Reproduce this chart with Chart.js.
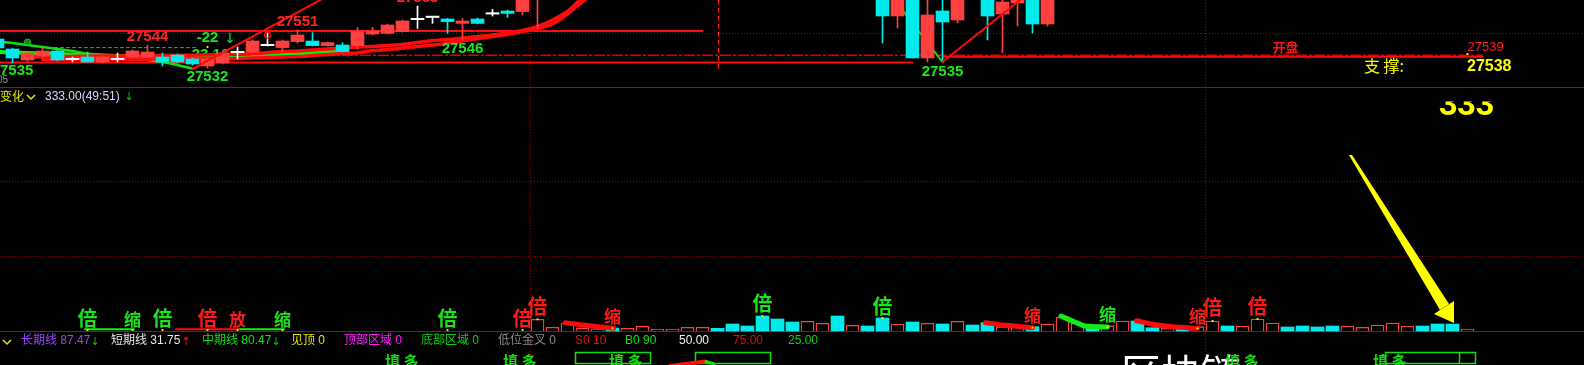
<!DOCTYPE html>
<html>
<head>
<meta charset="utf-8">
<style>
  html, body { margin: 0; padding: 0; background: #000; overflow: hidden; }
  #wrap { width: 1584px; height: 365px; }
</style>
<script src="https://cdn.jsdelivr.net/npm/chart.js@4.4.1/dist/chart.umd.min.js"></script>
</head>
<body>
<div id="wrap"><canvas id="chart" width="1584" height="365"></canvas></div>
<script>
// ---- candles (x = bar slot, 15px apart) ----
const candleIdx = [-1, 0, 1, 2, 3, 4, 5, 6, 7, 8, 9, 10, 11, 12, 13, 14, 15, 16, 17, 18,
  19, 20, 21, 22, 23, 24, 25, 26, 27, 28, 29, 30, 31, 32, 33, 34, 35,
  58, 59, 60, 61, 62, 63, 65, 66, 67, 68, 69];
const candleOpen = [27546.5, 27541.5, 27536, 27538, 27540.5, 27536.5, 27537.5, 27535, 27536.5, 27537.5,
  27537.5, 27537.5, 27538.5, 27536.5, 27533, 27534.5, 27540, 27540, 27543.5, 27542.2,
  27545.2, 27545.5, 27543.2, 27543.5, 27543.2, 27549, 27549.3, 27550.2, 27556.5, 27557.6,
  27556.5, 27554.3, 27556.5, 27559.3, 27560.5, 27560.2, 27570,
  27570, 27558, 27570, 27537, 27560.5, 27556, 27570, 27559, 27564.5, 27570, 27554];
const candleHigh = [27547, 27542, 27540, 27542, 27541, 27537.5, 27540, 27538, 27539.5, 27541,
  27543.5, 27539.5, 27539, 27537, 27537, 27540, 27542.5, 27546, 27549.5, 27546,
  27551, 27549.7, 27545, 27544.7, 27552.3, 27552.3, 27554, 27556, 27563, 27557.8,
  27556.8, 27556.8, 27557, 27561.3, 27561, 27570, 27578,
  27572, 27572, 27572, 27570, 27570, 27570, 27572, 27568, 27572, 27572, 27572];
const candleLow = [27541.5, 27534.5, 27535.5, 27537.5, 27535.5, 27535, 27535, 27534.5, 27535, 27537,
  27537, 27533, 27534.5, 27533.5, 27532, 27534, 27536.5, 27539.5, 27543, 27540.2,
  27544.5, 27543, 27543, 27540, 27541.3, 27548.5, 27549, 27550, 27551.8, 27554.3,
  27549.3, 27546, 27554, 27558, 27557.3, 27558.5, 27551.8,
  27544.5, 27552, 27537, 27535, 27535, 27554.5, 27546, 27539.5, 27553, 27549.5, 27553];
const candleClose = [27542, 27537, 27539.5, 27540.5, 27536, 27536.5, 27535, 27537.5, 27536.5, 27540.5,
  27540, 27535, 27535, 27534, 27536.5, 27539.5, 27540, 27545.5, 27543.5, 27545.5,
  27548.5, 27543.2, 27544.7, 27540.2, 27550.5, 27550.5, 27553.5, 27555.5, 27556.5, 27557.6,
  27555.2, 27555.5, 27554.3, 27559.3, 27559.3, 27568, 27575,
  27558, 27570, 27537, 27558.5, 27555, 27568, 27558, 27565, 27570, 27554, 27570];

// moving averages (start slot + one value per slot)
const maFastStart = 1;
const maFast = [27537.5, 27537.6, 27537.7, 27537.8, 27537.9, 27538, 27538, 27538.1, 27538.2, 27538.2,
  27538.3, 27538.4, 27538.5, 27538.7, 27539, 27539.2, 27539.7, 27540.2, 27540.5, 27541,
  27541.5, 27542, 27542.5, 27542.75, 27543.25, 27543.75, 27544.75, 27545.75, 27546.25, 27547,
  27547.75, 27548.5, 27549.5, 27550.75, 27552.75, 27556, 27560.25, 27567.25, 27573];
const maSlowStart = 2;
const maSlow = [27536.2, 27536.2, 27536.3, 27536.3, 27536.3, 27536.4, 27536.4, 27536.4, 27536.5, 27536.5,
  27536.5, 27536.6, 27536.6, 27536.7, 27537, 27537.2, 27537.5, 27537.7, 27538.2, 27538.7,
  27539.2, 27539.5, 27540.7, 27541.2, 27542, 27542.7, 27543.5, 27544.4, 27545.6, 27546.75,
  27547.75, 27548.75, 27550.25, 27551.75, 27554, 27559, 27565.25, 27570.5, 27576];
const maGreenStart = -1;
const maGreen = [27540, 27539.7, 27539.5, 27539.2, 27539, 27538.7, 27538.5, 27538.2, 27538, 27537.7,
  27537.5, 27537.5, 27537.2, 27537, 27537, 27537, 27537.2, 27537.5, 27538, 27538.5,
  27539, 27539.5, 27540, 27540.5];
const dropLineStart = -1;
const dropLine = [27545.2, 27544.5, 27543.5, 27542.5, 27541.5, 27540.5, 27539.2, 27538.5, 27537.7, 27537,
  27536, 27535, 27533.5, 27531.7];

// level lines: [price, from slot, to slot]
const resistLine = [27550.5, -1, 46];
const floorLine = [27534.75, -1, 60];
const openLine = [27538.35, 19.6, 98];
const supportLine = [27537.65, 62, 98];
const avgLine = [27542.2, 2.8, 12.2];
// trend lines: [slot, price] pairs
const trendUpA = [[12, 27531.5], [21.5, 27570]];
const trendUpB = [[62, 27535], [68, 27571]];
const trendDown = [[58.7, 27567], [62, 27535]];

// price tags
const tagText = ['27535', '27544', '-22', '27532', '27551', '27546', '27563', '27535'];
const tagK = [0, 9, 13, 13, 19, 30, 27, 62];
const tagP = [27530.5, 27547.75, 27547, 27527.5, 27555.25, 27541.5, 27567, 27530];
const tagUp = [0, 1, 0, 0, 1, 0, 1, 0];

// volume
const volStart = 35;
const volumes = [117, 37, 77, 30, 20, 30, 27, 47, 17, 17, 37, 37, 27, 70, 50, 150, 120, 90, 97, 77,
  150, 57, 50, 130, 70, 90, 77, 70, 97, 60, 83, 43, 40, 43, 70, 137, 77, 33, 53, 100,
  100, 33, 30, 27, 43, 100, 50, 50, 120, 80, 40, 50, 40, 50, 50, 37, 60, 80, 50, 50,
  70, 70, 20];
const volUp = [1, 1, 1, 1, 1, 0, 1, 1, 1, 1, 1, 1, 0, 0, 0, 0, 0, 0, 1, 1,
  0, 1, 0, 0, 1, 0, 1, 0, 1, 0, 0, 1, 1, 0, 1, 1, 1, 0, 1, 1,
  0, 0, 1, 0, 1, 1, 0, 1, 1, 1, 0, 0, 0, 0, 1, 1, 1, 1, 1, 0,
  0, 0, 1];

// volume signal marks
const markK = [5, 8, 10, 13, 15, 18, 29, 34, 35, 40, 50, 58, 68, 73, 79, 80, 83];
const markText = ['倍', '缩', '倍', '倍', '放', '缩', '倍', '倍', '倍', '缩', '倍', '倍', '缩', '缩', '缩', '倍', '倍'];
const markUp = [0, 0, 0, 1, 1, 0, 0, 1, 1, 1, 0, 0, 1, 0, 1, 1, 1];
const markV = [130, 110, 130, 130, 110, 110, 130, 130, 250, 140, 280, 250, 150, 160, 140, 235, 245];
const markDotV = [10, 10, 10, 10, 10, 10, 10, 10, 117, 27, 150, 130, 33, 40, 27, 100, 120];

// volume swing strokes: slots and values
const swingRed1K = [36.86, 38, 40.07], swingRed1V = [83, 60, 27];
const swingRed2K = [64.87, 66, 68], swingRed2V = [83, 60, 33];
const swingGreenK = [69.9, 70.9, 71.5, 73], swingGreenV = [150, 85, 50, 40];
const swingRed3K = [74.93, 75.9, 77.3, 79], swingRed3V = [103, 70, 43, 27];
const baseGreen1 = [4.83, 8.1], baseRed = [10.9, 15.1], baseGreen2 = [15.1, 18.1];

// grid
const priceGrid = [27549.5];
const volGrid = [750, 1500];
const sessionBreaks = [34.5, 79.5];
const markerK = 47;

// footer legend
const legendText = ['长期线 87.47', '短期线 31.75', '中期线 80.47', '见顶 0', '顶部区域 0', '底部区域 0',
  '低位金叉 0', 'S0 10', 'B0 90', '50.00', '75.00', '25.00'];
const legendColor = ['#9a45ff', '#e8e8e8', '#10e010', '#e6e600', '#ff20ff', '#10d010',
  '#8c8c8c', '#e01010', '#10e010', '#f4f4f4', '#e01010', '#10d010'];
const legendX = [21, 111, 202, 291, 344, 421, 498, 575, 625, 679, 733, 788];

const RED = '#ff4040', CYAN = '#00ebeb', LRED = '#ff0a0a', GTXT = '#1ae61a', RTXT = '#ff2626', YEL = '#ffff00';
const CJK = '"Noto Sans CJK SC"';
const NUM = '"Liberation Sans", "Noto Sans CJK SC"';

const pts = (start, arr) => arr.map((v, i) => ({ x: start + i, y: v }));
const pair = (ks, vs) => ks.map((k, i) => ({ x: k, y: vs[i] }));
const level = l => [{ x: l[1], y: l[0] }, { x: l[2], y: l[0] }];
const seg = s => s.map(p => ({ x: p[0], y: p[1] }));

const candleColor = candleIdx.map((k, i) =>
  candleClose[i] > candleOpen[i] ? RED : candleClose[i] < candleOpen[i] ? CYAN : '#ffffff');

const lineDs = (data, color, width, order, extra) => Object.assign({
  type: 'line', yAxisID: 'yP', data, borderColor: color, borderWidth: width,
  pointRadius: 0, pointHoverRadius: 0, tension: 0.25, order, borderCapStyle: 'round'
}, extra || {});

function put(ctx, s, x, y, font, color, align, base) {
  ctx.font = font;
  ctx.fillStyle = color;
  ctx.textAlign = align || 'left';
  ctx.textBaseline = base || 'middle';
  ctx.fillText(s, x, y);
}
function hline(ctx, y, x0, x1) { ctx.beginPath(); ctx.moveTo(x0, y); ctx.lineTo(x1, y); ctx.stroke(); }
function vline(ctx, x, y0, y1) { ctx.beginPath(); ctx.moveTo(x, y0); ctx.lineTo(x, y1); ctx.stroke(); }
function chevron(ctx, x, y, color) {
  ctx.strokeStyle = color; ctx.lineWidth = 1.5; ctx.setLineDash([]);
  ctx.beginPath(); ctx.moveTo(x, y - 2); ctx.lineTo(x + 4, y + 2); ctx.lineTo(x + 8, y - 2); ctx.stroke();
}

const overlay = {
  id: 'overlay',
  beforeDraw(chart) {
    const { ctx } = chart;
    ctx.save();
    ctx.fillStyle = '#000';
    ctx.fillRect(0, 0, chart.width, chart.height);
    ctx.restore();
  },
  beforeDatasetsDraw(chart) {
    const { ctx } = chart;
    const { x, yP, yV } = chart.scales;
    const W = chart.width, H = chart.height;
    ctx.save();
    ctx.lineWidth = 1;
    ctx.strokeStyle = '#a80000';
    ctx.setLineDash([1, 2]);
    priceGrid.forEach(p => hline(ctx, Math.round(yP.getPixelForValue(p)) + 0.5, 0, W));
    volGrid.forEach(v => hline(ctx, Math.round(yV.getPixelForValue(v)) + 0.5, 0, W));
    sessionBreaks.forEach(k => vline(ctx, Math.round(x.getPixelForValue(k)) + 0.5, 0, H));
    ctx.strokeStyle = '#ff1a1a';
    ctx.setLineDash([5, 3]);
    vline(ctx, Math.round(x.getPixelForValue(markerK)) + 0.5, 0, yP.getPixelForValue(27531));
    ctx.setLineDash([]);
    ctx.strokeStyle = '#c00000';
    hline(ctx, 87.5, 0, W);
    hline(ctx, Math.round(yV.getPixelForValue(0)) + 0.5, 0, W);
    // partly hidden tag behind candles
    put(ctx, '23.16', x.getPixelForValue(13.2), yP.getPixelForValue(27538.75), 'bold 15px ' + NUM, GTXT, 'center');
    ctx.restore();
  },
  afterDatasetsDraw(chart) {
    const { ctx } = chart;
    const { x, yP, yV } = chart.scales;
    ctx.save();
    // price tags
    tagText.forEach((t, i) => put(ctx, t, x.getPixelForValue(tagK[i]), yP.getPixelForValue(tagP[i]),
      'bold 15px ' + NUM, tagUp[i] ? RTXT : GTXT, 'center'));
    put(ctx, '↓', x.getPixelForValue(14.5), yP.getPixelForValue(27546.3), '14px "DejaVu Sans"', GTXT, 'center');
    put(ctx, '05', 8, 80, '10px ' + NUM, '#909090', 'right');
    put(ctx, '开盘', x.getPixelForValue(84.87), yP.getPixelForValue(27542.25), 'bold 13px ' + CJK, '#ff1010', 'center');
    put(ctx, '27539', x.getPixelForValue(97), yP.getPixelForValue(27542.25), '13px ' + NUM, '#ff2020');
    put(ctx, '支 撑:', 1364, 65.5, '16px ' + CJK, YEL);
    put(ctx, '27538', 1467, 66.5, 'bold 16px ' + NUM, YEL);

    // volume panel header
    put(ctx, '变化', 0, 96.5, '12px ' + CJK, '#e6e600');
    chevron(ctx, 27, 97, '#e6e600');
    put(ctx, '333.00(49:51)', 45, 96.5, '12px ' + NUM, '#d8d8ff');
    put(ctx, '↓', 129, 97, '11px "DejaVu Sans"', '#10c010', 'center');
    ctx.save();
    ctx.beginPath(); ctx.rect(1400, 101.5, 150, 30); ctx.clip();
    put(ctx, '333', 1439, 115, 'bold 33px ' + NUM, YEL, 'left', 'alphabetic');
    ctx.restore();

    // volume signal marks
    markText.forEach((t, i) => put(ctx, t, x.getPixelForValue(markK[i]), yV.getPixelForValue(markV[i]),
      (t === '倍' ? 'bold 20px ' : 'bold 17px ') + CJK, markUp[i] ? '#ff1a1a' : '#19e619', 'center'));

    // yellow arrow
    ctx.fillStyle = YEL;
    ctx.beginPath();
    ctx.moveTo(1349, 155); ctx.lineTo(1352, 155); ctx.lineTo(1449, 304); ctx.lineTo(1440, 310);
    ctx.closePath(); ctx.fill();
    ctx.beginPath();
    ctx.moveTo(1434, 314); ctx.lineTo(1454, 301); ctx.lineTo(1454, 323);
    ctx.closePath(); ctx.fill();

    // footer legend
    chevron(ctx, 3, 342, '#e6e600');
    legendText.forEach((t, i) => put(ctx, t, legendX[i], 341, '12px ' + NUM, legendColor[i]));
    put(ctx, '↓', 95, 342, '11px "DejaVu Sans"', '#10c010', 'center');
    put(ctx, '↑', 186, 342, '11px "DejaVu Sans"', '#ff1a1a', 'center');
    put(ctx, '↓', 276, 342, '11px "DejaVu Sans"', '#10c010', 'center');

    // clipped lower row
    put(ctx, '区块链', 1121, 353, '40px ' + CJK, '#ffffff', 'left', 'top');
    [385, 503, 609, 1225, 1373].forEach(px => put(ctx, '填 多', px, 354, 'bold 15px ' + CJK, '#10e010', 'left', 'top'));
    ctx.strokeStyle = '#10e010'; ctx.lineWidth = 1.5;
    ctx.strokeRect(575.5, 352.5, 75, 11);
    ctx.strokeRect(695.5, 352.5, 75, 11);
    ctx.strokeRect(1385.5, 352.5, 90, 11);
    vline(ctx, 1459.5, 352.5, 363.5);
    ctx.lineCap = 'round';
    ctx.strokeStyle = '#ff1010'; ctx.lineWidth = 4;
    ctx.beginPath(); ctx.moveTo(670, 366); ctx.lineTo(705, 361.5); ctx.stroke();
    ctx.strokeStyle = '#10e010'; ctx.lineWidth = 3;
    ctx.beginPath(); ctx.moveTo(706, 361.5); ctx.lineTo(714, 364); ctx.stroke();
    ctx.restore();
  }
};

const bodyData = candleIdx.map((k, i) => {
  const o = candleOpen[i], c = candleClose[i];
  return { x: k, y: o === c ? [o - 0.35, o + 0.35] : [o, c] };
});

const ctx = document.getElementById('chart').getContext('2d');
const chart = new Chart(ctx, {
  type: 'bar',
  data: {
    datasets: [
      // marks on top
      { type: 'scatter', yAxisID: 'yV', order: 0, data: pair(markK, markDotV),
        pointStyle: 'rect', pointRadius: 1.3, pointHoverRadius: 0, backgroundColor: YEL, borderWidth: 0 },
      { type: 'scatter', yAxisID: 'yP', order: 0, data: seg([[13, 27542.5], [97, 27539]]),
        pointStyle: 'rect', pointRadius: 1.3, pointHoverRadius: 0, backgroundColor: YEL, borderWidth: 0 },
      { type: 'scatter', yAxisID: 'yP', order: 0, data: seg([[1, 27545]]),
        pointRadius: 3, pointHoverRadius: 0, backgroundColor: '#0a8a0a', borderColor: '#30c030', borderWidth: 1 },
      { type: 'scatter', yAxisID: 'yP', order: 0, data: seg([[17, 27548.5]]),
        pointRadius: 3, pointHoverRadius: 0, backgroundColor: 'rgba(0,0,0,0)', borderColor: LRED, borderWidth: 1.5 },
      // volume swing strokes
      lineDs(pair(swingRed1K, swingRed1V), LRED, 5, 1, { yAxisID: 'yV' }),
      lineDs(pair(swingRed2K, swingRed2V), LRED, 5, 1, { yAxisID: 'yV' }),
      lineDs(pair(swingGreenK, swingGreenV), '#10f010', 5, 1, { yAxisID: 'yV' }),
      lineDs(pair(swingRed3K, swingRed3V), LRED, 5, 1, { yAxisID: 'yV' }),
      lineDs(pair(baseGreen1, [17, 17]), '#10f010', 2, 1, { yAxisID: 'yV' }),
      lineDs(pair(baseRed, [17, 17]), LRED, 2, 1, { yAxisID: 'yV' }),
      lineDs(pair(baseGreen2, [17, 17]), '#10f010', 2, 1, { yAxisID: 'yV' }),
      // trend lines
      lineDs(seg(trendUpA), LRED, 2, 2, { tension: 0 }),
      lineDs(seg(trendUpB), LRED, 2, 2, { tension: 0 }),
      lineDs(seg(trendDown), '#10e010', 2, 8, { tension: 0 }),
      // candles
      { type: 'bar', yAxisID: 'yP', order: 4, grouped: false, barThickness: 13,
        data: bodyData, backgroundColor: candleColor, borderWidth: 0 },
      { type: 'bar', yAxisID: 'yP', order: 5, grouped: false, barThickness: 1,
        data: candleIdx.map((k, i) => ({ x: k, y: [candleLow[i], candleHigh[i]] })),
        backgroundColor: candleColor, borderWidth: 0 },
      // moving averages
      lineDs(pts(maFastStart, maFast), LRED, 3.5, 6),
      lineDs(pts(maSlowStart, maSlow), LRED, 3.5, 6),
      lineDs(pts(dropLineStart, dropLine), '#10e010', 2.5, 7),
      lineDs(pts(maGreenStart, maGreen), '#10f010', 4, 8),
      // levels
      lineDs(level(avgLine), '#10d010', 1, 9, { tension: 0, borderDash: [3, 3] }),
      lineDs(level(openLine), '#e00000', 1.5, 10, { tension: 0, borderDash: [10, 3, 2, 3] }),
      lineDs(level(supportLine), LRED, 2, 10, { tension: 0 }),
      lineDs(level(resistLine), LRED, 2, 10, { tension: 0 }),
      lineDs(level(floorLine), LRED, 2, 10, { tension: 0 }),
      // volume bars
      { type: 'bar', yAxisID: 'yV', order: 12, grouped: false, barThickness: 13,
        data: volumes.map((v, i) => ({ x: volStart + i, y: v })),
        backgroundColor: volUp.map(u => u ? '#000000' : CYAN),
        borderColor: volUp.map(u => u ? RED : CYAN),
        borderWidth: volUp.map(u => u ? 1.3 : 0) }
    ]
  },
  options: {
    responsive: false,
    devicePixelRatio: 1,
    animation: false,
    events: [],
    layout: { padding: 0, autoPadding: false },
    plugins: { legend: { display: false }, tooltip: { enabled: false } },
    scales: {
      x: { type: 'linear', min: -12.5 / 15, max: -12.5 / 15 + 1584 / 15, display: false, offset: false },
      yP: { type: 'linear', position: 'left', min: 27383.5, max: 27566, display: false },
      yV: { type: 'linear', position: 'right', min: -340, max: 3310, display: false }
    }
  },
  plugins: [overlay]
});
</script>
</body>
</html>
